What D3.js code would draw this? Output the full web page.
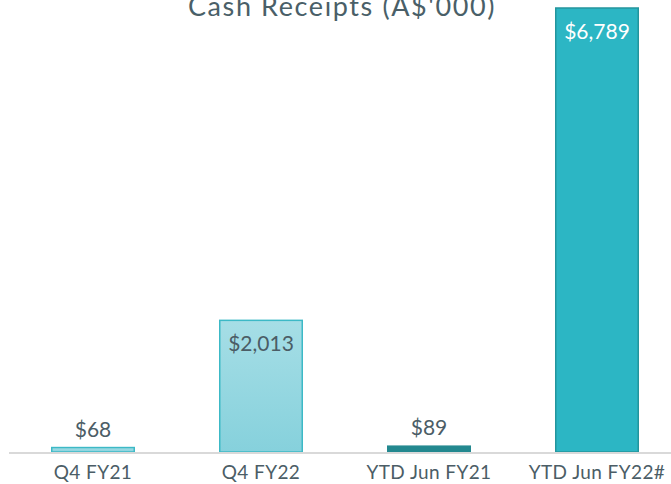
<!DOCTYPE html>
<html>
<head>
<meta charset="utf-8">
<script src="https://cdn.jsdelivr.net/npm/d3@7"></script>
<style>
  body { margin: 0; background: #fff; }
  svg { display: block; font-family: "Lato", "Noto Sans", sans-serif; }
</style>
</head>
<body>
<div class="chart"></div>
<script>
// 資料
const categories = ["Q4 FY21", "Q4 FY22", "YTD Jun FY21", "YTD Jun FY22#"];
const values = [68, 2013, 89, 6789];
const title = "Cash Receipts (A$'000)";

const W = 671, H = 484;
const baseY = 452;

const svg = d3.select(".chart").append("svg")
  .attr("width", W).attr("height", H);

// 漸層
const defs = svg.append("defs");
const grad = defs.append("linearGradient")
  .attr("id", "lightGrad").attr("x1", 0).attr("y1", 0).attr("x2", 0).attr("y2", 1);
grad.append("stop").attr("offset", "0%").attr("stop-color", "#a6dee6");
grad.append("stop").attr("offset", "100%").attr("stop-color", "#86d1dc");

const styles = [
  { fill: "url(#lightGrad)", stroke: "#3cb9c6", label: "#4b5d66", inside: false },
  { fill: "url(#lightGrad)", stroke: "#3cb9c6", label: "#4b5d66", inside: true },
  { fill: "#23888f", stroke: "#23888f", label: "#4b5d66", inside: false },
  { fill: "#2cb6c4", stroke: "#23959d", label: "#ffffff", inside: true }
];

const x = d3.scaleBand()
  .domain(categories)
  .range([9, 681])
  .paddingInner(0.5)
  .paddingOuter(0.25);

const y = d3.scaleLinear()
  .domain([0, 6789])
  .range([baseY, 8]);

// 標題
svg.append("text")
  .attr("x", 342).attr("y", 16)
  .attr("text-anchor", "middle")
  .attr("fill", "#4a5f68")
  .style("font-size", "27px")
  .style("letter-spacing", "1.6px")
  .text(title);

// 長條
svg.selectAll("rect.bar")
  .data(values)
  .enter()
  .append("rect")
  .attr("class", "bar")
  .attr("x", (d, i) => x(categories[i]) + 0.75)
  .attr("width", x.bandwidth() - 1.5)
  .attr("y", d => y(d))
  .attr("height", d => baseY - y(d))
  .attr("fill", (d, i) => styles[i].fill)
  .attr("stroke", (d, i) => styles[i].stroke)
  .attr("stroke-width", 1.5);

// 軸線
svg.append("line")
  .attr("x1", 9).attr("x2", W)
  .attr("y1", baseY + 1).attr("y2", baseY + 1)
  .attr("stroke", "#d9d9d9").attr("stroke-width", 2);

// 數值標籤
const fmt = d3.format(",");
svg.selectAll("text.val")
  .data(values)
  .enter()
  .append("text")
  .attr("class", "val")
  .attr("x", (d, i) => x(categories[i]) + x.bandwidth() / 2)
  .attr("y", (d, i) => styles[i].inside ? y(d) + 31 : y(d) - 11)
  .attr("text-anchor", "middle")
  .attr("fill", (d, i) => styles[i].label)
  .style("font-size", "21px")
  .text(d => "$" + fmt(d));

// 類別標籤
svg.selectAll("text.cat")
  .data(categories)
  .enter()
  .append("text")
  .attr("class", "cat")
  .attr("x", d => x(d) + x.bandwidth() / 2)
  .attr("y", 479)
  .attr("text-anchor", "middle")
  .attr("fill", "#4b5d66")
  .style("font-size", "19px")
  .style("letter-spacing", "0.4px")
  .text(d => d);
</script>
</body>
</html>
